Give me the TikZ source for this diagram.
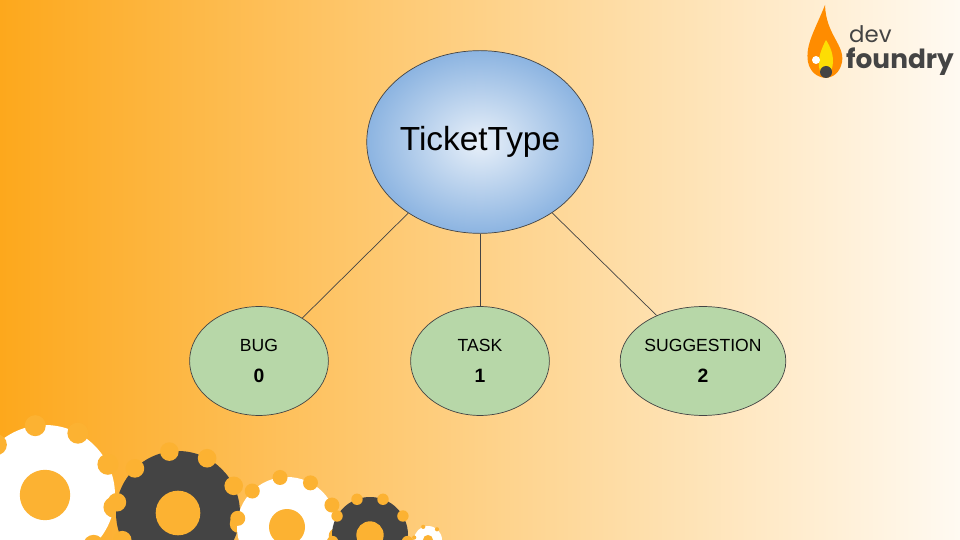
\documentclass[tikz,border=0pt]{standalone}
\usepackage{fontspec}
\setmainfont{Liberation Sans}
\newfontfamily\logofont{Poppins}
\usepackage{xcolor}
\definecolor{bg-orange}{RGB}{253,168,28}
\definecolor{bg-light}{RGB}{255,250,242}
\definecolor{gear-bg}{RGB}{252,178,50}
\definecolor{gear-dark}{RGB}{68,68,68}
\definecolor{leaf-green}{RGB}{183,215,168}
\definecolor{root-blue}{RGB}{140,180,225}
\usetikzlibrary{shapes.geometric,positioning}
\newcommand*\cog[4]{% centre, radius, teeth, colour
	\fill[#4] #1 circle (#2);
	\foreach \k in {1,...,#3} {
		\fill[gear-bg] #1 ++(\k*360/#3+10:#2) circle (#2*0.15);
	}
	\fill[gear-bg] #1 circle (#2*0.36);
}
\tikzset{
	leaf/.style={ellipse,draw=gear-dark,fill=leaf-green,minimum width=79pt,minimum height=62pt,inner sep=0pt,align=center,font=\fontsize{10}{18}\selectfont},
	edge/.style={draw=gear-dark,line width=0.4pt}
}
\begin{document}
\begin{tikzpicture}[x=0.02cm,y=-0.02cm]
	\useasboundingbox (0,0) rectangle (960,540);
	\shade[shading angle=135,left color=bg-orange,right color=bg-light] (0,0) rectangle (960,540);
	
	% gears
	\cog{(45,495)}{70}{10}{white}
	\cog{(178,513)}{62}{10}{gear-dark}
	\cog{(287,527)}{50}{10}{white}
	\cog{(370,535)}{38}{9}{gear-dark}
	\cog{(428,540)}{14}{6}{white}
	
	% logo
	\fill[orange!90!yellow] (825,5) .. controls (815,30) and (805,45) .. (808,62)
		.. controls (812,82) and (838,84) .. (842,62)
		.. controls (845,45) and (826,35) .. (825,5);
	\fill[yellow!80!orange] (826,40) .. controls (818,55) and (815,70) .. (825,77)
		.. controls (835,72) and (836,55) .. (826,40);
	\fill[gear-dark] (826,72) circle (6);
	\fill[white] (816,60) circle (4);
	\node[font=\logofont\fontsize{13}{13}\selectfont,text=gear-dark,anchor=west] (dev) at (843,34) {dev};
	\node[font=\logofont\bfseries\fontsize{15}{15}\selectfont,text=gear-dark,anchor=west] (foundry) at (840,62) {foundry};
	
	% tree
	\node[ellipse,draw=gear-dark,inner color=white!80!root-blue,outer color=root-blue,
		minimum width=120pt,minimum height=104pt,inner sep=0pt,font=\fontsize{19}{19}\selectfont] (ticket) at (480,142) {TicketType};
	\node[leaf] (bug) at (259,361) {BUG\\\textbf{\fontsize{11}{11}\selectfont 0}};
	\node[leaf] (task) at (480,361) {TASK\\\textbf{\fontsize{11}{11}\selectfont 1}};
	\node[leaf,minimum width=77pt] (suggestion) at (703,361) {SUGGESTION\\\textbf{\fontsize{11}{11}\selectfont 2}};
	
	\foreach \c in {bug,task,suggestion} {
		\draw[edge] (ticket) -- (\c);
	}
\end{tikzpicture}
\end{document}
